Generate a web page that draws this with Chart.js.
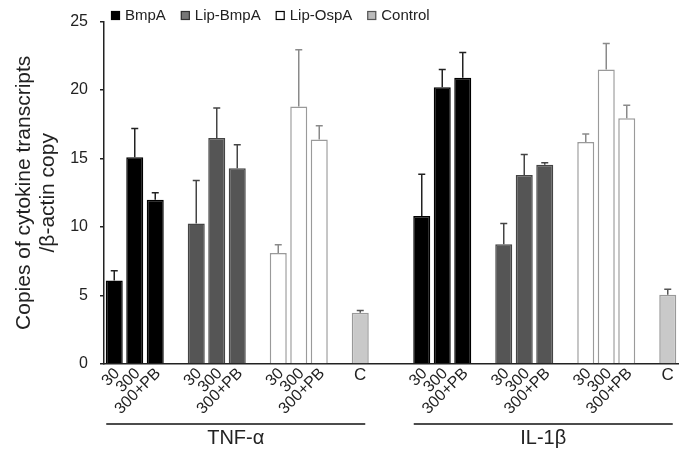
<!DOCTYPE html>
<html>
<head>
<meta charset="utf-8">
<script src="https://cdn.jsdelivr.net/npm/chart.js@4.4.0/dist/chart.umd.min.js"></script>
<style>
  html, body { margin: 0; padding: 0; background: #fff; }
  #wrap { width: 682px; height: 455px; position: relative; }
</style>
</head>
<body>
<div id="wrap"><canvas id="chart"></canvas></div>
<script>
// doses / group names
var doses = ['30', '300', '300+PB'];
var groupNames = ['TNF-α', 'IL-1β'];
var seriesNames = ['BmpA', 'Lip-BmpA', 'Lip-OspA', 'Control'];

// TNF-alpha means and SD (upper bar only)
var tnfBmpA = [6.1, 15.1, 12.0];
var tnfBmpASd = [0.7, 2.1, 0.5];
var tnfLipBmpA = [10.25, 16.5, 14.3];
var tnfLipBmpASd = [3.15, 2.2, 1.7];
var tnfLipOspA = [8.1, 18.8, 16.4];
var tnfLipOspASd = [0.6, 4.15, 1.0];
var tnfControl = [3.75];
var tnfControlSd = [0.15];

// IL-1beta means and SD
var ilBmpA = [10.8, 20.2, 20.9];
var ilBmpASd = [3.05, 1.3, 1.85];
var ilLipBmpA = [8.75, 13.8, 14.55];
var ilLipBmpASd = [1.5, 1.5, 0.15];
var ilLipOspA = [16.2, 21.5, 17.95];
var ilLipOspASd = [0.6, 1.9, 0.95];
var ilControl = [5.05];
var ilControlSd = [0.4];

// category slots: 3 doses + gap per series, then C; two gaps between cytokines
var labels = [];
groupNames.forEach(function(g, c) {
  for (var k = 0; k < 3; k++) {
    labels.push.apply(labels, doses);
    labels.push('');
  }
  labels.push('C');
  if (c == 0) labels.push('', '');
});
var groupSize = 15;

function slots(k, tnfVals, ilVals) {
  var arr = labels.map(function() { return null; });
  [tnfVals, ilVals].forEach(function(vals, c) {
    vals.forEach(function(v, d) {
      arr[c * groupSize + k * 4 + d] = v;
    });
  });
  return arr;
}

var fills = ['#000000', '#555555', '#ffffff', '#c9c9c9'];
var borders = ['#000000', '#444444', '#9a9a9a', '#999999'];
var errColors = ['#222222', '#444444', '#8a8a8a', '#555555'];
var legendFills = ['#000000', '#777777', '#ffffff', '#bbbbbb'];
var legendBorders = ['#000000', '#333333', '#000000', '#555555'];

var means = [
  slots(0, tnfBmpA, ilBmpA),
  slots(1, tnfLipBmpA, ilLipBmpA),
  slots(2, tnfLipOspA, ilLipOspA),
  slots(3, tnfControl, ilControl)
];
var sds = [
  slots(0, tnfBmpASd, ilBmpASd),
  slots(1, tnfLipBmpASd, ilLipBmpASd),
  slots(2, tnfLipOspASd, ilLipOspASd),
  slots(3, tnfControlSd, ilControlSd)
];

var FONT = '"Liberation Sans", Arial, sans-serif';

var errorBars = {
  id: 'errorBars',
  afterDatasetsDraw: function(chart) {
    var ctx = chart.ctx, xs = chart.scales.x, ys = chart.scales.y;
    ctx.save();
    ctx.lineWidth = 1.5;
    chart.data.datasets.forEach(function(ds, i) {
      ctx.strokeStyle = errColors[i];
      ds.data.forEach(function(v, j) {
        if (v == null) return;
        var px = xs.getPixelForValue(j);
        var top = ys.getPixelForValue(v);
        var end = ys.getPixelForValue(v + ds.sd[j]);
        ctx.beginPath();
        ctx.moveTo(px, top);
        ctx.lineTo(px, end);
        ctx.moveTo(px - 3.5, end);
        ctx.lineTo(px + 3.5, end);
        ctx.stroke();
      });
    });
    ctx.restore();
  }
};

var customLabels = {
  id: 'customLabels',
  afterDraw: function(chart) {
    var ctx = chart.ctx, xs = chart.scales.x;
    ctx.save();
    ctx.fillStyle = '#222';
    // dose labels
    labels.forEach(function(l, i) {
      if (!l) return;
      var px = xs.getPixelForValue(i);
      if (l == 'C') {
        ctx.font = '17px ' + FONT;
        ctx.textAlign = 'center';
        ctx.textBaseline = 'top';
        ctx.fillText(l, px, 367);
      } else {
        ctx.save();
        ctx.font = '16px ' + FONT;
        ctx.translate(px + 3, 371);
        ctx.rotate(-Math.PI / 4);
        ctx.textAlign = 'right';
        ctx.textBaseline = 'middle';
        ctx.fillText(l, 0, 0);
        ctx.restore();
      }
    });
    // cytokine group lines + names
    groupNames.forEach(function(g, c) {
      var x0 = xs.getPixelForValue(c * groupSize) - 8;
      var x1 = xs.getPixelForValue(c * groupSize + 12) + 5;
      ctx.strokeStyle = '#111';
      ctx.lineWidth = 1.5;
      ctx.beginPath();
      ctx.moveTo(x0, 424);
      ctx.lineTo(x1, 424);
      ctx.stroke();
      ctx.font = '20px ' + FONT;
      ctx.textAlign = 'center';
      ctx.textBaseline = 'middle';
      ctx.fillText(g, (x0 + x1) / 2, 438);
    });
    // legend
    ctx.font = '15px ' + FONT;
    ctx.textAlign = 'left';
    ctx.textBaseline = 'middle';
    var x = 111;
    seriesNames.forEach(function(s, i) {
      ctx.fillStyle = legendFills[i];
      ctx.fillRect(x, 11, 9, 9);
      ctx.strokeStyle = legendBorders[i];
      ctx.lineWidth = 1.2;
      ctx.strokeRect(x + 0.5, 11.5, 8, 8);
      ctx.fillStyle = '#222';
      ctx.fillText(s, x + 14, 16);
      x += 14 + ctx.measureText(s).width + 15;
    });
    ctx.restore();
  }
};

var ctxOne = document.getElementById('chart').getContext('2d');
var chart = new Chart(ctxOne, {
  type: 'bar',
  data: {
    labels: labels,
    datasets: seriesNames.map(function(s, i) {
      return {
        label: s,
        data: means[i],
        sd: sds[i],
        backgroundColor: fills[i],
        borderColor: borders[i],
        borderWidth: 1.5,
        barPercentage: 0.83,
        categoryPercentage: 1
      };
    })
  },
  options: {
    responsive: true,
    maintainAspectRatio: false,
    animation: false,
    layout: { padding: { top: 15, right: 4, bottom: 0, left: 0 } },
    datasets: { bar: { grouped: false } },
    plugins: {
      legend: { display: false },
      tooltip: { enabled: false }
    },
    scales: {
      x: {
        type: 'category',
        grid: { display: false },
        border: { display: true, color: '#222', width: 1.5 },
        ticks: { display: false },
        afterFit: function(scale) { scale.height = 91; }
      },
      y: {
        min: 0,
        max: 25,
        ticks: {
          stepSize: 5,
          padding: 12,
          color: '#222',
          font: { family: FONT, size: 16 }
        },
        grid: { drawOnChartArea: false, drawTicks: true, tickLength: 4, color: '#222', lineWidth: 1.5 },
        border: { display: true, color: '#222', width: 1.5 },
        title: {
          display: true,
          text: ['Copies of cytokine transcripts', '/β-actin copy'],
          color: '#222',
          font: { family: FONT, size: 21, lineHeight: 1.15 },
          padding: { top: 12, bottom: 0 }
        },
        afterFit: function(scale) { scale.width = 104; }
      }
    }
  },
  plugins: [errorBars, customLabels]
});
</script>
</body>
</html>
